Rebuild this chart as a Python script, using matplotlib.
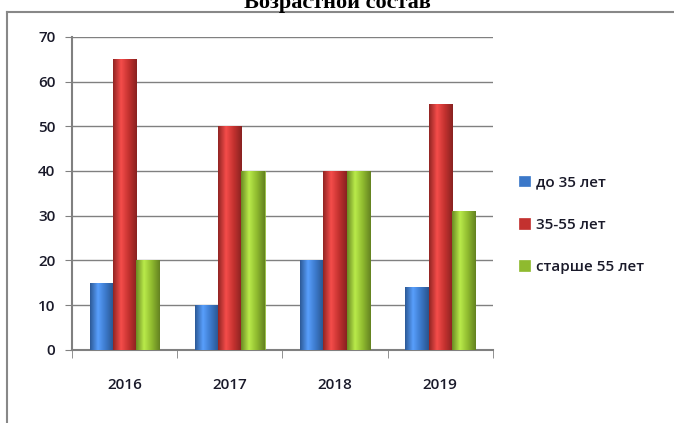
import matplotlib.pyplot as plt
import numpy as np
from matplotlib.colors import LinearSegmentedColormap, to_rgb

years = ['2016', '2017', '2018', '2019']
under35 = [15, 10, 20, 14]
mid = [65, 50, 40, 55]
over55 = [20, 40, 40, 31]
labels = ['до 35 лет', '35-55 лет', 'старше 55 лет']
colors = ['#3b78c9', '#c3312f', '#8fba2f']

plt.rcParams['font.family'] = ['Open Sans', 'DejaVu Sans']

fig = plt.figure(figsize=(6.74, 4.23), dpi=100)
ax = fig.add_axes([0.107, 0.173, 0.624, 0.74])

x = np.arange(len(years))
w = 0.22
grad = np.linspace(0, 1, 64).reshape(1, -1)
for i, (vals, lab, c) in enumerate(zip([under35, mid, over55], labels, colors)):
    bars = ax.bar(x + (i - 1) * w, vals, w, color=c, edgecolor=c, linewidth=0.5,
                  label=lab, zorder=3)
    base = np.array(to_rgb(c))
    cmap = LinearSegmentedColormap.from_list(
        'cyl', [base * 0.75, np.minimum(base * 1.15 + 0.08, 1), base, base * 0.7])
    # cylinder-like shading inside each bar
    for b in bars:
        bx, by = b.get_x(), b.get_y()
        im = ax.imshow(grad, cmap=cmap, aspect='auto', zorder=3.5,
                       extent=[bx, bx + b.get_width(), by, by + b.get_height()])
        im.set_clip_path(b)

ax.set_xlim(-0.5, 3.5)
ax.set_ylim(0, 70)
ax.set_yticks(range(0, 71, 10))
ax.set_xticks(x)
ax.set_xticklabels(years)
ax.set_xticks(np.arange(-0.5, 4, 1), minor=True)
ax.tick_params(axis='x', which='major', length=0, pad=20, labelsize=11, labelcolor='#1a1a2a')
ax.tick_params(axis='x', which='minor', length=6, color='#808080', direction='out')
ax.tick_params(axis='y', length=5, color='#808080', labelsize=11, pad=7, labelcolor='#1a1a2a')
for t in ax.get_xticklabels() + ax.get_yticklabels():
    t.set_fontweight('semibold')
ax.grid(axis='y', color='#808080', linewidth=1, zorder=0)
for s in ['top', 'right']:
    ax.spines[s].set_visible(False)
for s in ['left', 'bottom']:
    ax.spines[s].set_color('#808080')
    ax.spines[s].set_linewidth(1.5)

leg = ax.legend(loc='center left', bbox_to_anchor=(1.03, 0.40), frameon=False,
                handlelength=0.7, handleheight=0.7, handletextpad=0.4,
                labelspacing=1.85, fontsize=11, labelcolor='#1a1a2a')
for t in leg.get_texts():
    t.set_fontweight('semibold')

# frame and clipped title
fig.add_artist(plt.Line2D([0.011, 1.0], [0.972, 0.972], color='#888888', lw=1.5,
                          transform=fig.transFigure))
fig.add_artist(plt.Line2D([0.011, 0.011], [0.0, 0.972], color='#888888', lw=1.5,
                          transform=fig.transFigure))
fig.text(0.50, 0.992, 'Возрастной состав', ha='center', va='center',
         fontsize=16, fontweight='bold', family='Liberation Serif')

fig.savefig('out.png', dpi=100)
